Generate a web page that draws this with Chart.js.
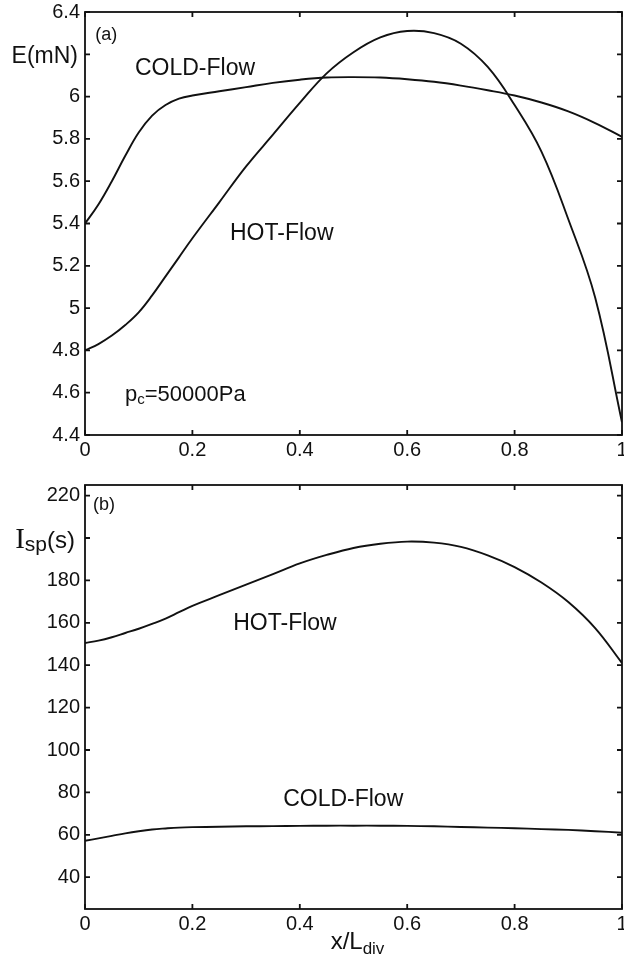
<!DOCTYPE html>
<html>
<head>
<meta charset="utf-8">
<script src="https://cdn.jsdelivr.net/npm/chart.js@4.4.1/dist/chart.umd.min.js"></script>
<style>
  html, body { margin: 0; padding: 0; background: #fff; }
  body { width: 624px; height: 956px; position: relative; overflow: hidden; }
  canvas { position: absolute; left: 0; }
  #thrustChart { top: 0; }
  #impulseChart { top: 470px; }
</style>
</head>
<body>
<canvas id="thrustChart" width="624" height="470"></canvas>
<canvas id="impulseChart" width="624" height="486"></canvas>
<script>
// positions along the divergent section, x / L_div
const xPos = [0, 0.025, 0.05, 0.075, 0.1, 0.125, 0.15, 0.175, 0.2, 0.25, 0.3, 0.35, 0.4,
  0.45, 0.5, 0.55, 0.6, 0.65, 0.7, 0.75, 0.8, 0.85, 0.9, 0.95, 1];

// thrust E (mN)
const thrustCold = [5.40, 5.49, 5.60, 5.72, 5.83, 5.91, 5.96, 5.99, 6.005, 6.025, 6.045, 6.065, 6.08,
  6.09, 6.092, 6.09, 6.082, 6.07, 6.052, 6.03, 6.005, 5.972, 5.93, 5.875, 5.81];
const thrustHot = [4.80, 4.83, 4.87, 4.92, 4.98, 5.06, 5.15, 5.24, 5.33, 5.50, 5.67, 5.82, 5.97,
  6.11, 6.21, 6.28, 6.31, 6.30, 6.25, 6.14, 5.96, 5.74, 5.42, 5.05, 4.46];

// specific impulse Isp (s)
const impulseHot = [150.5, 151.6, 153.2, 155.2, 157.2, 159.5, 162, 165, 168, 173, 178, 183, 188,
  192, 195.3, 197.3, 198.3, 197.8, 195.8, 191.8, 186.3, 179, 169.8, 157.5, 141];
const impulseCold = [57.2, 58.3, 59.5, 60.7, 61.7, 62.5, 63.0, 63.4, 63.6, 63.8, 64.0, 64.1, 64.2,
  64.3, 64.3, 64.3, 64.2, 64.0, 63.7, 63.4, 63.1, 62.7, 62.3, 61.7, 61.0];

const xTicks = [0, 0.2, 0.4, 0.6, 0.8, 1];
const thrustTicks = [4.4, 4.6, 4.8, 5, 5.2, 5.4, 5.6, 5.8, 6, 6.2, 6.4];
const impulseTicks = [40, 60, 80, 100, 120, 140, 160, 180, 200, 220];

const ink = "#111111";
const sansFont = "\"Liberation Sans\", Arial, sans-serif";
const serifFont = "\"Liberation Serif\", \"Times New Roman\", serif";

function curve(values) {
  return {
    data: xPos.map((x, i) => ({ x, y: values[i] })),
    borderColor: ink,
    borderWidth: 1.9,
    pointRadius: 0,
    tension: 0.4,
    fill: false
  };
}

// text made of runs, each with its own size / offset (for subscripts)
function drawRuns(ctx, runs, x, baseline, align) {
  const widths = runs.map((r) => {
    ctx.font = `${r.size}px ${r.family || sansFont}`;
    return ctx.measureText(r.text).width;
  });
  const total = widths.reduce((a, b) => a + b, 0);
  let cx = align === "right" ? x - total : align === "center" ? x - total / 2 : x;
  runs.forEach((r, i) => {
    ctx.font = `${r.size}px ${r.family || sansFont}`;
    ctx.fillText(r.text, cx, baseline + (r.dy || 0));
    cx += widths[i];
  });
}

// MATLAB-like box: frame round the plot area, inward ticks on all four sides
const framePlugin = {
  id: "frame",
  afterDatasetsDraw(chart) {
    const { ctx, chartArea: a, scales } = chart;
    ctx.save();
    ctx.strokeStyle = ink;
    ctx.lineWidth = 1.8;
    ctx.strokeRect(a.left, a.top, a.right - a.left, a.bottom - a.top);
    ctx.beginPath();
    scales.x.ticks.forEach((t) => {
      const px = scales.x.getPixelForValue(t.value);
      ctx.moveTo(px, a.bottom); ctx.lineTo(px, a.bottom - 5);
      ctx.moveTo(px, a.top); ctx.lineTo(px, a.top + 5);
    });
    scales.y.ticks.forEach((t) => {
      const py = scales.y.getPixelForValue(t.value);
      ctx.moveTo(a.left, py); ctx.lineTo(a.left + 5, py);
      ctx.moveTo(a.right, py); ctx.lineTo(a.right - 5, py);
    });
    ctx.stroke();
    ctx.restore();
  }
};

function notesPlugin(notes) {
  return {
    id: "notes",
    afterDraw(chart) {
      const { ctx, chartArea: a, scales } = chart;
      ctx.save();
      ctx.fillStyle = ink;
      ctx.textBaseline = "alphabetic";
      notes.forEach((n) => {
        const px = n.x !== undefined ? scales.x.getPixelForValue(n.x) : (a.left + a.right) / 2 + (n.dx || 0);
        const py = n.y !== undefined ? scales.y.getPixelForValue(n.y) : chart.height - n.fromBottom;
        const baseline = n.y !== undefined ? py + 0.36 * n.runs[0].size : py;
        const x = n.align === "right" ? a.left - n.gap : px;
        drawRuns(ctx, n.runs, x, baseline, n.align || "left");
      });
      ctx.restore();
    }
  };
}

function scalesFor(yMin, yMax, yTicks, blankTick, xHeight) {
  const tickFont = { family: sansFont, size: 20 };
  return {
    x: {
      type: "linear",
      min: 0,
      max: 1,
      grid: { display: false, drawTicks: false },
      border: { display: false },
      afterBuildTicks: (s) => { s.ticks = xTicks.map((v) => ({ value: v })); },
      afterFit: (s) => { s.height = xHeight; s.paddingLeft = 0; s.paddingRight = 0; },
      ticks: { color: ink, font: tickFont, padding: 3, maxRotation: 0, autoSkip: false,
        callback: (v) => String(v) }
    },
    y: {
      min: yMin,
      max: yMax,
      grid: { display: false, drawTicks: false },
      border: { display: false },
      afterBuildTicks: (s) => { s.ticks = yTicks.map((v) => ({ value: v })); },
      afterFit: (s) => { s.width = 85; s.paddingTop = 0; s.paddingBottom = 0; },
      ticks: { color: ink, font: tickFont, padding: 5, autoSkip: false,
        callback: (v) => (v === blankTick ? "" : String(v)) }
    }
  };
}

const baseOptions = {
  responsive: false,
  animation: false,
  devicePixelRatio: 1,
  plugins: { legend: { display: false }, tooltip: { enabled: false } }
};

new Chart(document.getElementById("thrustChart"), {
  type: "line",
  data: { datasets: [curve(thrustCold), curve(thrustHot)] },
  options: {
    ...baseOptions,
    layout: { padding: { top: 12, right: 2, left: 0, bottom: 0 } },
    scales: scalesFor(4.4, 6.4, thrustTicks, 6.2, 35)
  },
  plugins: [framePlugin, notesPlugin([
    { x: 0.019, y: 6.3, runs: [{ text: "(a)", size: 18 }] },
    { x: 0.093, y: 6.14, runs: [{ text: "COLD-Flow", size: 23 }] },
    { x: 0.27, y: 5.36, runs: [{ text: "HOT-Flow", size: 23 }] },
    { x: 0.0745, y: 4.6, runs: [{ text: "p", size: 22 }, { text: "c", size: 15, dy: 3 },
      { text: "=50000Pa", size: 22 }] },
    { y: 6.2, align: "right", gap: 7, runs: [{ text: "E(mN)", size: 23 }] }
  ])]
});

new Chart(document.getElementById("impulseChart"), {
  type: "line",
  data: { datasets: [curve(impulseHot), curve(impulseCold)] },
  options: {
    ...baseOptions,
    layout: { padding: { top: 15, right: 2, left: 0, bottom: 0 } },
    scales: scalesFor(25, 225, impulseTicks, 200, 47)
  },
  plugins: [framePlugin, notesPlugin([
    { x: 0.015, y: 216.5, runs: [{ text: "(b)", size: 18 }] },
    { x: 0.276, y: 160.4, runs: [{ text: "HOT-Flow", size: 23 }] },
    { x: 0.369, y: 77.4, runs: [{ text: "COLD-Flow", size: 23 }] },
    { y: 200, align: "right", gap: 10, runs: [{ text: "I", size: 29, family: serifFont },
      { text: "sp", size: 21, dy: 3 }, { text: "(s)", size: 24 }] },
    { dx: 4, fromBottom: 7, align: "center", runs: [{ text: "x/L", size: 24 },
      { text: "div", size: 17, dy: 5 }] }
  ])]
});
</script>
</body>
</html>
